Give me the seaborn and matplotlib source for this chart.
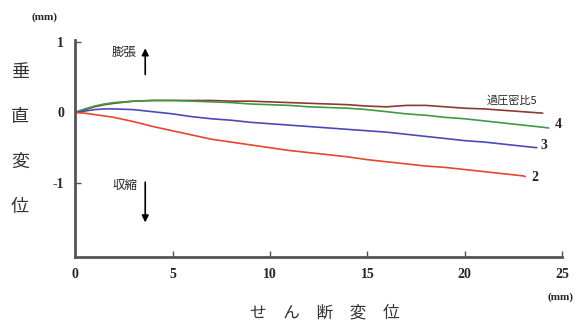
import seaborn as sns
import matplotlib.pyplot as plt
import pandas as pd

# せん断変位 (mm) と 垂直変位 (mm)
x5 = [0, 0.5, 1, 1.5, 2, 3, 4, 5, 6, 7, 8, 9, 10, 11, 12, 13, 14, 15, 16, 17, 18, 19, 20, 21, 22, 23, 24]
y5 = [0, 0.04, 0.08, 0.11, 0.13, 0.16, 0.17, 0.17, 0.17, 0.17, 0.16, 0.16, 0.15, 0.14, 0.13, 0.12, 0.11,
      0.09, 0.08, 0.10, 0.10, 0.08, 0.06, 0.05, 0.03, 0.01, -0.01]
x4 = [0, 0.5, 1, 1.5, 2, 3, 4, 5, 6, 7, 8, 9, 10, 11, 12, 13, 14, 15, 16, 17, 18, 19, 20, 21, 22, 23, 24, 24.3]
y4 = [0, 0.05, 0.09, 0.12, 0.14, 0.16, 0.17, 0.17, 0.16, 0.15, 0.14, 0.12, 0.11, 0.10, 0.08, 0.07, 0.06,
      0.04, 0.01, -0.02, -0.04, -0.07, -0.09, -0.12, -0.15, -0.18, -0.21, -0.22]
x3 = [0, 0.5, 1, 1.5, 2, 3, 4, 5, 6, 7, 8, 9, 10, 11, 12, 13, 14, 15, 16, 17, 18, 19, 20, 21, 22, 23, 23.7]
y3 = [0, 0.02, 0.04, 0.05, 0.05, 0.04, 0.01, -0.02, -0.06, -0.09, -0.11, -0.14, -0.16, -0.18, -0.20,
      -0.22, -0.24, -0.26, -0.28, -0.31, -0.34, -0.37, -0.40, -0.42, -0.45, -0.48, -0.50]
x2 = [0, 0.5, 1, 1.5, 2, 3, 4, 5, 6, 7, 8, 9, 10, 11, 12, 13, 14, 15, 16, 17, 18, 19, 20, 21, 22, 23, 23.1]
y2 = [0, -0.01, -0.03, -0.05, -0.07, -0.13, -0.20, -0.26, -0.32, -0.38, -0.42, -0.46, -0.50, -0.54, -0.57,
      -0.60, -0.63, -0.67, -0.70, -0.73, -0.76, -0.78, -0.81, -0.84, -0.87, -0.90, -0.91]

ocr_names = ['5', '4', '3', '2']
colors = ['#8b3a32', '#3f9a45', '#4a4ab5', '#e8452f']

frames = []
for name, xs, ys in zip(ocr_names, [x5, x4, x3, x2], [y5, y4, y3, y2]):
    frames.append(pd.DataFrame({'shear': xs, 'vert': ys, 'ocr': name}))
df = pd.concat(frames)

sns.set_style('ticks')
plt.rcParams['font.family'] = ['Liberation Serif', 'Noto Sans CJK JP', 'DejaVu Sans']

fig = plt.figure(figsize=(5.82, 3.24), dpi=100)
ax = fig.add_axes([0.129, 0.207, 0.837, 0.67])
sns.lineplot(data=df, x='shear', y='vert', hue='ocr', palette=dict(zip(ocr_names, colors)),
             linewidth=1.2, legend=False, ax=ax, sort=False, estimator=None)

ax.set_xlim(0, 25)
ax.set_ylim(-2.05, 1.03)
ax.set_xticks([0, 5, 10, 15, 20, 25])
ax.set_yticks([1, 0, -1])
ax.set_xticklabels(['0', '5', '10', '15', '20', '25'], fontweight='bold', fontsize=10)
ax.set_yticklabels(['1', '0', '-1'], fontweight='bold', fontsize=10)
ax.tick_params(direction='in', length=4, width=1, color='#555555', pad=8)
for s in ['top', 'right']:
    ax.spines[s].set_visible(False)
for s in ['left', 'bottom']:
    ax.spines[s].set_linewidth(2)
    ax.spines[s].set_color('#555555')
ax.set_xlabel('')
ax.set_ylabel('')

jp = ['Noto Sans CJK JP', 'DejaVu Sans']
# 曲線ラベル
ax.text(21.1, 0.17, '過圧密比5', fontsize=8, family=jp, va='center')
ax.text(24.6, -0.17, '4', fontsize=10, fontweight='bold', va='center')
ax.text(23.9, -0.47, '3', fontsize=10, fontweight='bold', va='center')
ax.text(23.4, -0.93, '2', fontsize=10, fontweight='bold', va='center')

# 膨張 / 収縮
ax.text(1.9, 0.85, '膨張', fontsize=9, family=jp, va='center')
ax.annotate('', xy=(3.6, 0.95), xytext=(3.6, 0.5),
            arrowprops=dict(arrowstyle='-|>', color='black', lw=1.2, mutation_scale=10))
ax.text(1.9, -1.03, '収縮', fontsize=9, family=jp, va='center')
ax.annotate('', xy=(3.6, -1.6), xytext=(3.6, -0.95),
            arrowprops=dict(arrowstyle='-|>', color='black', lw=1.2, mutation_scale=10))

# 単位と軸名
fig.text(44 / 582, 1 - 17 / 324, '(mm)', fontsize=8, fontweight='bold', ha='center', va='center')
fig.text(560 / 582, 1 - 297 / 324, '(mm)', fontsize=8, fontweight='bold', ha='center', va='center')
fig.text(325 / 582, 1 - 313 / 324, 'せ　ん　断　変　位', fontsize=12, family=jp,
         ha='center', va='center', color='#333333')
for i, ch in enumerate('垂直変位'):
    fig.text(20 / 582, 1 - (72 + i * 45) / 324, ch, fontsize=13, family=jp,
             ha='center', va='center', color='#333333')

fig.savefig('out.png', dpi=100)
